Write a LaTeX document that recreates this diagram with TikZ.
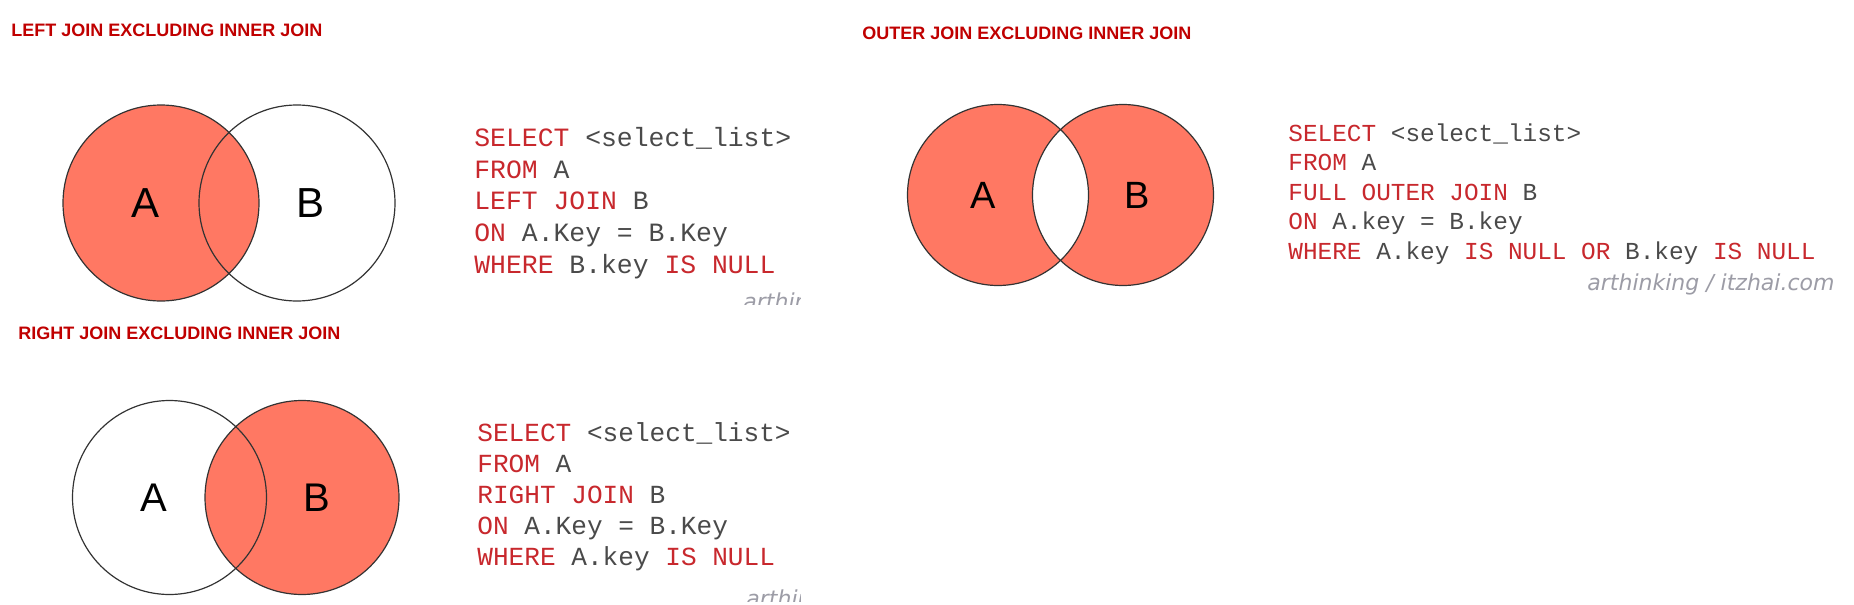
\documentclass[tikz,border=0pt]{standalone}
\usepackage{fontspec}
\setmainfont{Liberation Sans}
\newfontfamily\sqlfont{Liberation Mono}
\newfontfamily\markfont{DejaVu Sans}
\usetikzlibrary{positioning}
\definecolor{joinred}{HTML}{C00000}
\definecolor{vennfill}{HTML}{FF7863}
\definecolor{kwred}{HTML}{C8282D}
\definecolor{codegray}{HTML}{4A4A4A}
\definecolor{markgray}{HTML}{9C9CA6}
\newcommand{\kw}[1]{\textcolor{kwred}{#1}}
\tikzset{
  title/.style={anchor=west,inner sep=0,
                font=\bfseries\fontsize{9}{11}\selectfont,text=joinred},
  setline/.style={draw=black!80,line width=0.6pt},
  setfill/.style={fill=vennfill},
  letter/.style={inner sep=0,text=black},
  sql/.style={anchor=west,align=left,inner sep=0,text=codegray},
  wmark/.style={anchor=base west,inner sep=0,text=markgray,
                font=\markfont\itshape\fontsize{11}{13}\selectfont},
}

\begin{document}
\begin{tikzpicture}[x=0.5pt,y=-0.5pt]
    \useasboundingbox[fill=white] (0,0) rectangle (1854,605);

    % Left join excluding inner join
    \node[title] (tleft) at (11,30) {LEFT JOIN EXCLUDING INNER JOIN};
    \coordinate (la) at (161,203);
    \coordinate (lb) at (297,203);
    \fill[setfill] (la) circle[radius=49pt];
    \draw[setline] (la) circle[radius=49pt] (lb) circle[radius=49pt];
    \node[letter,font=\fontsize{21}{24}\selectfont] (laname) at (146,203) {A};
    \node[letter,font=\fontsize{21}{24}\selectfont] (lbname) at (311,203) {B};
    \node[sql,font=\sqlfont\fontsize{13.2}{15.9}\selectfont] (lcode) at (474,203)
      {\kw{SELECT} <select\_list>\\
       \kw{FROM} A\\
       \kw{LEFT JOIN} B\\
       \kw{ON} A.Key = B.Key\\
       \kw{WHERE} B.key \kw{IS NULL}};
    \begin{scope}
      \clip (700,280) rectangle (800,304);
      \node[wmark] (lmark) at (743,309) {arthinking / itzhai.com};
    \end{scope}

    % Outer join excluding inner join
    \node[title] (touter) at (862,33) {OUTER JOIN EXCLUDING INNER JOIN};
    \coordinate (oa) at (998,195);
    \coordinate (ob) at (1123,195);
    \fill[setfill,even odd rule] (oa) circle[radius=45.25pt] (ob) circle[radius=45.25pt];
    \draw[setline] (oa) circle[radius=45.25pt] (ob) circle[radius=45.25pt];
    \node[letter,font=\fontsize{19}{22}\selectfont] (oaname) at (983,195) {A};
    \node[letter,font=\fontsize{19}{22}\selectfont] (obname) at (1137,195) {B};
    \node[sql,font=\sqlfont\fontsize{12.2}{14.75}\selectfont] (ocode) at (1288,194)
      {\kw{SELECT} <select\_list>\\
       \kw{FROM} A\\
       \kw{FULL OUTER JOIN} B\\
       \kw{ON} A.key = B.key\\
       \kw{WHERE} A.key \kw{IS NULL OR} B.key \kw{IS NULL}};
    \node[wmark] (omark) at (1587,290) {arthinking / itzhai.com};

    % Right join excluding inner join
    \node[title] (tright) at (18,333) {RIGHT JOIN EXCLUDING INNER JOIN};
    \coordinate (ra) at (169.5,497.5);
    \coordinate (rb) at (302,497.5);
    \fill[setfill] (rb) circle[radius=48.5pt];
    \draw[setline] (ra) circle[radius=48.5pt] (rb) circle[radius=48.5pt];
    \node[letter,font=\fontsize{20}{24}\selectfont] (raname) at (154,498) {A};
    \node[letter,font=\fontsize{20}{24}\selectfont] (rbname) at (317,498) {B};
    \node[sql,font=\sqlfont\fontsize{13.05}{15.5}\selectfont] (rcode) at (477,497)
      {\kw{SELECT} <select\_list>\\
       \kw{FROM} A\\
       \kw{RIGHT JOIN} B\\
       \kw{ON} A.Key = B.Key\\
       \kw{WHERE} A.key \kw{IS NULL}};
    \begin{scope}
      \clip (700,580) rectangle (800,601);
      \node[wmark] (rmark) at (746,606) {arthinking / itzhai.com};
    \end{scope}
\end{tikzpicture}
\end{document}
